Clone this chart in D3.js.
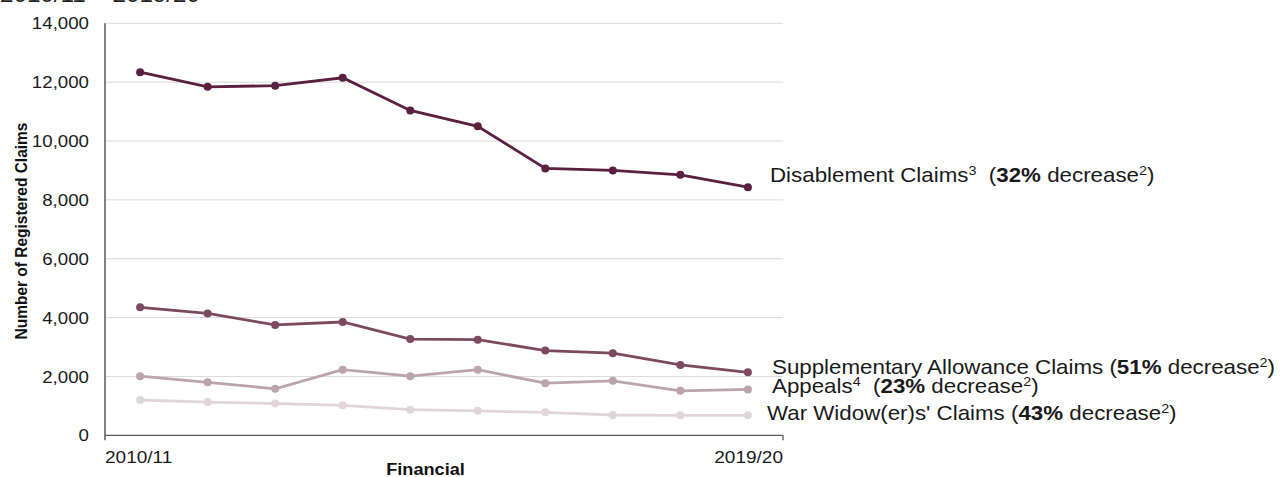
<!DOCTYPE html>
<html>
<head>
<meta charset="utf-8">
<title>Registered claims 2010/11 - 2019/20</title>
<script src="https://cdn.jsdelivr.net/npm/d3@7"></script>
<style>
  body { margin: 0; background: #fff; }
  svg { display: block; font-family: Arial, "Liberation Sans", sans-serif; }
</style>
</head>
<body>
<script>

// financial years on the x axis
let years = ['2010/11', '2011/12', '2012/13', '2013/14', '2014/15',
             '2015/16', '2016/17', '2017/18', '2018/19', '2019/20'];

// registered claims per year
let disablement = [12340, 11840, 11880, 12150, 11040, 10500, 9070, 9000, 8850, 8430];
let supplementary = [4350, 4140, 3750, 3850, 3270, 3250, 2880, 2790, 2390, 2140];
let appeals = [2010, 1800, 1580, 2230, 2010, 2230, 1770, 1850, 1510, 1560];
let widows = [1200, 1130, 1080, 1020, 870, 830, 780, 690, 680, 680];

let yTicks = [0, 2000, 4000, 6000, 8000, 10000, 12000, 14000];

// series labels: name, footnote, bold percentage
let names = ['Disablement Claims', 'Supplementary Allowance Claims', 'Appeals', "War Widow(er)s' Claims"];
let notes = ['3', '', '4', ''];
let pcts = ['32%', '51%', '23%', '43%'];
let colors = ['#5b1f41', '#7c4a5f', '#bca4ad', '#e2d5d9'];

window.onload = function() {
  draw();
};

function draw() {

  let w = 1280, h = 477;
  let stretch = 1.1;

  let svg = d3.select('body')
     .append('svg')
     .attr('width', w)
     .attr('height', h);

  let x = d3.scalePoint()
     .domain(years)
     .range([105, 783])
     .padding(0.52);

  let y = d3.scaleLinear()
     .domain([0, 14000])
     .range([435.3, 23.3]);

  // cut off title at the very top
  svg.append('text')
     .attr('transform', 'translate(0,2) scale(' + stretch + ',1)')
     .style('font-size', '22px')
     .style('fill', '#222')
     .text('2010/11 \u2013 2019/20');

  // gridlines
  svg.append('g')
     .selectAll('line')
     .data(yTicks.filter(function(d) { return d > 0; }))
     .enter()
     .append('line')
     .attr('x1', 105)
     .attr('x2', 783)
     .attr('y1', function(d) { return y(d); })
     .attr('y2', function(d) { return y(d); })
     .attr('stroke', '#d9d9d9')
     .attr('stroke-width', 1);

  // y axis
  let yAxis = svg.append('g')
     .attr('transform', 'translate(105,0)')
     .call(d3.axisLeft(y).tickValues(yTicks).tickFormat(d3.format(',')).tickSize(0).tickPadding(16));
  yAxis.select('.domain').remove();
  yAxis.selectAll('text')
     .attr('x', null)
     .attr('y', null)
     .attr('dy', '0.36em')
     .attr('transform', function(d) { return 'translate(-16,' + y(d) + ') scale(' + stretch + ',1)'; })
     .style('font-size', '17px')
     .style('font-family', 'Arial, "Liberation Sans", sans-serif')
     .style('fill', '#1a1a1a');
  yAxis.selectAll('.tick').attr('transform', null);

  svg.append('line')
     .attr('x1', 105).attr('x2', 105)
     .attr('y1', y(14000)).attr('y2', y(0) + 5)
     .attr('stroke', '#404040')
     .attr('stroke-width', 1.3);

  // x axis with labels at the two ends only
  svg.append('line')
     .attr('x1', 105).attr('x2', 783)
     .attr('y1', y(0)).attr('y2', y(0))
     .attr('stroke', '#595959')
     .attr('stroke-width', 1.3);
  svg.append('line')
     .attr('x1', 783).attr('x2', 783)
     .attr('y1', y(0)).attr('y2', y(0) + 5)
     .attr('stroke', '#595959')
     .attr('stroke-width', 1.3);

  svg.append('text')
     .attr('transform', 'translate(105,462.5) scale(' + stretch + ',1)')
     .style('font-size', '17.3px')
     .style('fill', '#1a1a1a')
     .text(years[0]);

  svg.append('text')
     .attr('transform', 'translate(783,462.5) scale(' + stretch + ',1)')
     .style('text-anchor', 'end')
     .style('font-size', '17.3px')
     .style('fill', '#1a1a1a')
     .text(years[years.length - 1]);

  // axis titles
  svg.append('text')
     .attr('transform', 'translate(425.5,474.5) scale(' + stretch + ',1)')
     .style('text-anchor', 'middle')
     .style('font-size', '16.5px')
     .style('font-weight', 'bold')
     .style('fill', '#111')
     .text('Financial');

  svg.append('text')
     .attr('transform', 'translate(26.5,231) rotate(-90) scale(1,' + stretch + ')')
     .style('text-anchor', 'middle')
     .style('font-size', '15.5px')
     .style('font-weight', 'bold')
     .style('fill', '#111')
     .text('Number of Registered Claims');

  // lines, drawn lightest first
  let series = [disablement, supplementary, appeals, widows];
  let line = d3.line()
     .x(function(d, i) { return x(years[i]); })
     .y(function(d) { return y(d); });

  for (let s = series.length - 1; s >= 0; s--) {
    svg.append('path')
       .datum(series[s])
       .attr('d', line)
       .attr('fill', 'none')
       .attr('stroke', colors[s])
       .attr('stroke-width', 2.8);

    svg.append('g')
       .selectAll('circle')
       .data(series[s])
       .enter()
       .append('circle')
       .attr('cx', function(d, i) { return x(years[i]); })
       .attr('cy', function(d) { return y(d); })
       .attr('r', 4)
       .attr('fill', colors[s]);
  }

  // end labels, offset from the last point
  let labelX = [770, 772, 772, 767];
  let labelDy = [-5, 1.5, 4, 4.5];
  let gaps = ['\u00a0\u00a0(', ' (', '\u00a0\u00a0(', ' ('];

  for (let s = 0; s < series.length; s++) {
    let last = series[s][series[s].length - 1];
    let t = svg.append('text')
       .attr('transform', 'translate(' + labelX[s] + ',' + (y(last) + labelDy[s]) + ') scale(' + stretch + ',1)')
       .style('font-size', '20.3px')
       .style('fill', '#1a1a1a');
    t.append('tspan').text(names[s]);
    if (notes[s]) {
      t.append('tspan').attr('dy', -7).style('font-size', '13px').text(notes[s]);
      t.append('tspan').attr('dy', 7).text(gaps[s]);
    } else {
      t.append('tspan').text(gaps[s]);
    }
    t.append('tspan').style('font-weight', 'bold').text(pcts[s]);
    t.append('tspan').text(' decrease');
    t.append('tspan').attr('dy', -7).style('font-size', '13px').text('2');
    t.append('tspan').attr('dy', 7).text(')');
  }
}

</script>
</body>
</html>
